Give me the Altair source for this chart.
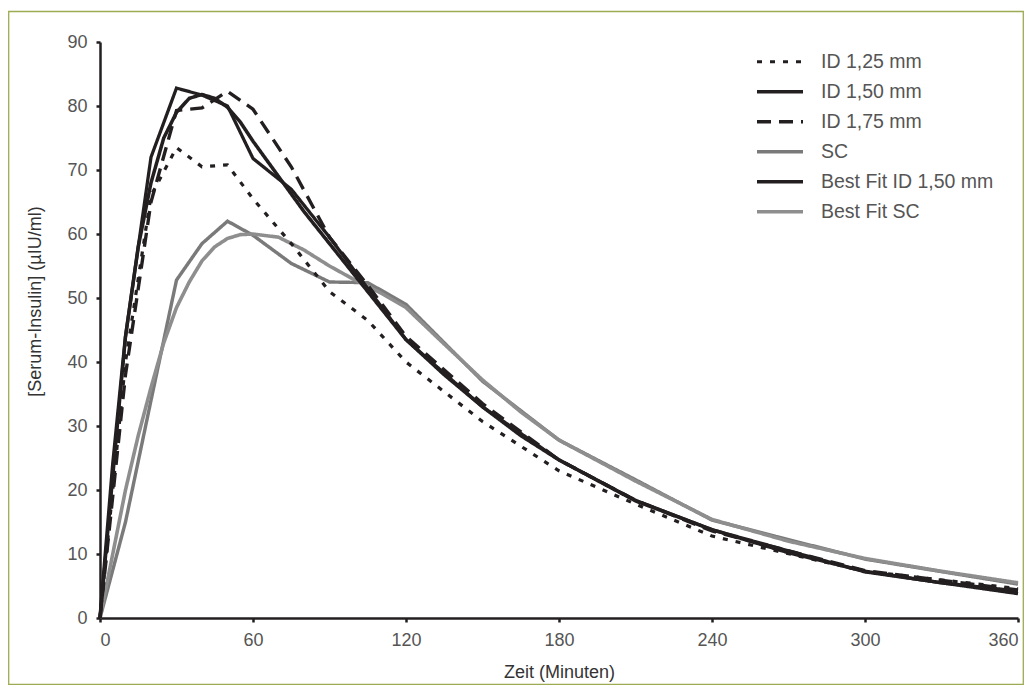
import altair as alt
import pandas as pd

# --- data ---
t_meas = [0, 10, 20, 30, 40, 50, 60, 75, 90, 105, 120, 150, 180, 210, 240, 300, 360]
id125 = [0, 40, 66, 73.5, 70.5, 70.8, 65.5, 58.5, 51, 46.5, 40, 30.7, 23, 17.8, 12.8, 7.3, 4.6]
id150 = [0, 44, 72, 82.8, 81.7, 80, 71.8, 67, 59.5, 51.5, 43.5, 33, 24.7, 18.4, 13.8, 7.2, 3.8]
id175 = [0, 38, 65, 79.3, 79.7, 82.3, 79.5, 70.5, 59.5, 52, 44, 33.5, 24.7, 18.4, 13.6, 7.4, 4.4]
sc = [0, 15, 34, 52.8, 58.5, 62, 59.8, 55.4, 52.5, 52.4, 49, 37, 27.8, 21.6, 15.3, 9.2, 5.3]

t_fit = [0, 5, 10, 15, 20, 25, 30, 35, 40, 45, 50, 55, 60, 70, 80, 90, 100, 110, 120,
         135, 150, 165, 180, 210, 240, 270, 300, 330, 360]
bf_id150 = [0, 24, 44, 58, 68, 75, 79, 81.2, 81.8, 81.2, 79.8, 77.5, 74.5, 69, 63.5, 58.5,
            53.5, 48.5, 43.5, 38, 33, 28.5, 24.7, 18.3, 13.8, 10.2, 7.3, 5.5, 4.2]
bf_sc = [0, 10, 20, 28.5, 36, 43, 48.5, 52.5, 55.8, 58, 59.3, 59.9, 60, 59.5, 57.5, 55,
         52.8, 50.8, 48.5, 42.8, 37.2, 32.2, 27.8, 21.4, 15.4, 12, 9.3, 7.3, 5.5]

series_names = ["ID 1,25 mm", "ID 1,50 mm", "ID 1,75 mm", "SC",
                "Best Fit ID 1,50 mm", "Best Fit SC"]
x_ticks = [0, 60, 120, 180, 240, 300, 360]
y_ticks = [0, 10, 20, 30, 40, 50, 60, 70, 80, 90]

rows = []
def add(name, ts, vs):
    for t, v in zip(ts, vs):
        rows.append({"series": name, "t": t, "v": v})

add("SC", t_meas, sc)
add("Best Fit SC", t_fit, bf_sc)
add("ID 1,25 mm", t_meas, id125)
add("ID 1,75 mm", t_meas, id175)
add("Best Fit ID 1,50 mm", t_fit, bf_id150)
add("ID 1,50 mm", t_meas, id150)
df = pd.DataFrame(rows)

ink = "#231f20"
colors = [ink, ink, ink, "#7a7a7a", ink, "#8e8e8e"]
dashes = [[5, 8], [1, 0], [14, 8], [1, 0], [1, 0], [1, 0]]
widths = [3.2, 3.6, 2.6, 4, 2.4, 2.8]

FONT = "Liberation Sans"

lines = alt.Chart(df).mark_line(strokeCap="butt", strokeJoin="miter").encode(
    x=alt.X("t:Q", scale=alt.Scale(domain=[0, 360], nice=False),
            axis=alt.Axis(values=x_ticks, title="Zeit (Minuten)")),
    y=alt.Y("v:Q", scale=alt.Scale(domain=[0, 90], nice=False),
            axis=alt.Axis(values=y_ticks, title="[Serum-Insulin] (µIU/ml)", titleY=259)),
    color=alt.Color("series:N", scale=alt.Scale(domain=series_names, range=colors),
                    legend=alt.Legend(title=None, orient="none", legendX=655, legendY=5,
                                      symbolType="stroke", symbolSize=2116,
                                      labelFont=FONT, labelFontSize=19.5, labelColor="#555",
                                      labelOffset=16, clipHeight=29.5, rowPadding=0,
                                      labelLimit=300)),
    strokeDash=alt.StrokeDash("series:N", scale=alt.Scale(domain=series_names, range=dashes),
                              legend=alt.Legend(title=None)),
    strokeWidth=alt.StrokeWidth("series:N", scale=alt.Scale(domain=series_names, range=widths),
                                legend=alt.Legend(title=None)),
    detail="series:N",
)

frame_df = pd.DataFrame({"k": [0]})
frame = alt.Chart(frame_df).mark_rect(fill=None, stroke="#9fab52", strokeWidth=1.3).encode(
    x=alt.value(-91.3), x2=alt.value(923.3), y=alt.value(-30.5), y2=alt.value(642.3)
)

chart = alt.layer(frame, lines).properties(
    width=918, height=576,
    autosize=alt.AutoSizeParams(type="none"),
    padding={"left": 92, "top": 34, "right": 6, "bottom": 67},
    background="white",
).configure_view(stroke=None).configure_axis(
    grid=False,
    domainColor=ink, domainWidth=2.5,
    tickColor=ink, tickWidth=2.5, tickSize=4,
    labelFont=FONT, labelFontSize=18, labelColor="#555", labelPadding=9,
    titleFont=FONT, titleFontSize=18, titleColor="#333", titleFontWeight="normal",
).configure_axisX(titlePadding=14).configure_axisY(titlePadding=22)

chart.save("out.html", embed_options={"renderer": "svg", "actions": False})
